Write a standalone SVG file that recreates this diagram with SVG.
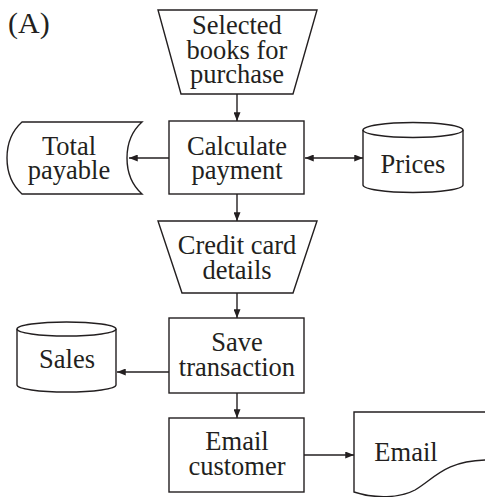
<svg xmlns="http://www.w3.org/2000/svg" width="485" height="497" viewBox="0 0 485 497">
<defs>
<style>
.s{fill:#fff;stroke:#231f20;stroke-width:1.4}
.c{fill:none;stroke:#231f20;stroke-width:1.4}
text{font-family:"Liberation Serif","Times New Roman",serif;font-size:26.5px;fill:#231f20;text-anchor:middle}
</style>
<marker id="ah" viewBox="0 0 10 8" refX="10" refY="4" markerWidth="9" markerHeight="7" markerUnits="userSpaceOnUse" orient="auto-start-reverse">
<path d="M0,0 L10,4 L0,8 Z" fill="#231f20"/>
</marker>
</defs>
<rect width="485" height="497" fill="#fff"/>
<text x="8" y="33" style="text-anchor:start;font-size:30px">(A)</text>
<g id="connectors">
<line class="c" x1="237" y1="94" x2="237" y2="121" marker-end="url(#ah)"/>
<line class="c" x1="169" y1="158" x2="129" y2="158" marker-end="url(#ah)"/>
<line class="c" x1="305" y1="158" x2="363" y2="158" marker-start="url(#ah)" marker-end="url(#ah)"/>
<line class="c" x1="237" y1="194" x2="237" y2="221" marker-end="url(#ah)"/>
<line class="c" x1="237" y1="293" x2="237" y2="318" marker-end="url(#ah)"/>
<line class="c" x1="169" y1="372" x2="117" y2="372" marker-end="url(#ah)"/>
<line class="c" x1="237" y1="393" x2="237" y2="418" marker-end="url(#ah)"/>
<line class="c" x1="304" y1="455" x2="354" y2="455" marker-end="url(#ah)"/>
</g>
<g id="selected-books">
<path class="s" d="M158,10 H317 L293,94 H181 Z"/>
<text x="237" y="34">Selected</text>
<text x="237" y="59">books for</text>
<text x="237" y="83">purchase</text>
</g>
<g id="calculate-payment">
<rect class="s" x="169" y="121" width="135" height="73"/>
<text x="237" y="155">Calculate</text>
<text x="237" y="179">payment</text>
</g>
<g id="total-payable">
<path class="s" d="M22,122 H142 C122,140 122,176 142,194 H22 C2,176 2,140 22,122 Z"/>
<text x="69" y="155">Total</text>
<text x="69" y="179">payable</text>
</g>
<g id="prices">
<path class="s" d="M363,130 A50,7.5 0 0 1 463,130 V185 A50,7.5 0 0 1 363,185 Z"/>
<path class="c" d="M363,130 A50,7.5 0 0 0 463,130"/>
<text x="413" y="173">Prices</text>
</g>
<g id="credit-card">
<path class="s" d="M158,221 H317 L293,293 H182 Z"/>
<text x="237" y="254">Credit card</text>
<text x="237" y="279">details</text>
</g>
<g id="save-transaction">
<rect class="s" x="169" y="318" width="135" height="75"/>
<text x="237" y="351">Save</text>
<text x="237" y="376">transaction</text>
</g>
<g id="sales">
<path class="s" d="M17,329 A49.5,7 0 0 1 116,329 V385 A49.5,7 0 0 1 17,385 Z"/>
<path class="c" d="M17,329 A49.5,7 0 0 0 116,329"/>
<text x="67" y="368">Sales</text>
</g>
<g id="email-customer">
<rect class="s" x="169" y="418" width="135" height="74"/>
<text x="237" y="450">Email</text>
<text x="237" y="475">customer</text>
</g>
<g id="email">
<path class="s" d="M486,412 H354 V492 C375,499 400,498 415,490 C435,478 445,461 486,460"/>
<text x="406" y="461">Email</text>
</g>
</svg>
